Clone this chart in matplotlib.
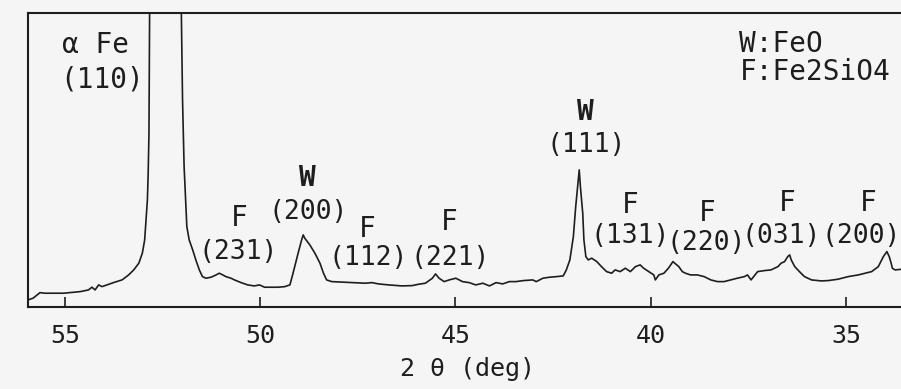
import matplotlib
matplotlib.use("Agg")
import matplotlib.pyplot as plt

# XRD pattern (2theta in deg, intensity in arbitrary units)
two_theta = [55.95, 55.82, 55.64, 55.52, 55.04, 54.61, 54.40, 54.31, 54.23, 54.14,
             54.05, 53.93, 53.76, 53.54, 53.37, 53.24, 53.11, 53.02, 52.96, 52.92,
             52.89, 52.87, 52.85, 52.83, 52.42, 52.03, 51.99, 51.95, 51.91, 51.88,
             51.82, 51.73, 51.65, 51.56, 51.48, 51.39, 51.26, 51.13, 51.05, 50.96,
             50.88, 50.75, 50.66, 50.49, 50.32, 50.15, 50.02, 49.89, 49.72, 49.54,
             49.37, 49.24, 49.16, 49.03, 48.94, 48.90, 48.86, 48.73, 48.60, 48.47,
             48.38, 48.30, 48.17, 47.65, 47.31, 47.14, 46.97, 46.71, 46.37, 46.11,
             45.94, 45.77, 45.59, 45.51, 45.42, 45.29, 45.16, 44.99, 44.82, 44.65,
             44.48, 44.30, 44.13, 43.96, 43.79, 43.62, 43.45, 43.27, 43.02, 42.93,
             42.76, 42.59, 42.41, 42.24, 42.16, 42.07, 41.98, 41.92, 41.87, 41.83,
             41.80, 41.74, 41.71, 41.66, 41.60, 41.51, 41.38, 41.26, 41.13, 41.00,
             40.91, 40.78, 40.65, 40.52, 40.39, 40.27, 40.18, 40.05, 39.92, 39.88,
             39.79, 39.66, 39.54, 39.43, 39.36, 39.28, 39.19, 39.11, 38.98, 38.81,
             38.63, 38.46, 38.29, 38.12, 37.95, 37.78, 37.60, 37.52, 37.43, 37.26,
             37.09, 36.92, 36.74, 36.66, 36.57, 36.49, 36.44, 36.40, 36.31, 36.19,
             36.06, 35.88, 35.63, 35.46, 35.20, 34.94, 34.68, 34.51, 34.34, 34.17,
             34.04, 33.95, 33.89, 33.84, 33.81, 33.74, 33.56, 33.45]
intensity = [7, 8.7, 14.3, 13.7, 13.7, 15.3, 17, 19.7, 17, 22,
             20.3, 22, 24.3, 27, 32, 37, 43.7, 53.7, 67, 90.3,
             107, 133.7, 173.7, 320, 1500, 320, 207, 140.3, 107, 80.3,
             67, 57, 47, 37, 30.3, 28.7, 29.7, 32, 33.7, 32,
             30.3, 28.7, 27, 24.3, 22, 21, 22, 19.7, 19.7, 19.7,
             20.3, 22, 33.7, 53.7, 67, 72, 68.7, 62, 53.7, 43.7,
             33.7, 27, 25.3, 24.3, 23.7, 24.3, 23, 22, 21, 21.3,
             22.7, 23.7, 28.7, 33, 28.7, 25.3, 27, 28.7, 25.3, 24.3,
             22, 23.7, 21, 24.3, 23, 25.3, 25.3, 26.3, 27, 25.3,
             28.7, 29.7, 30.3, 31, 37, 47, 70.3, 100.3, 120.3, 137,
             120.3, 93.7, 67, 50.3, 47, 48.7, 45.3, 40.3, 35.3, 33.7,
             37, 35.3, 38.7, 35.3, 40.3, 42, 38.7, 35.3, 32, 27,
             32, 33.7, 39, 45.3, 43, 40.3, 35.3, 33.7, 32, 32,
             30.3, 27, 25.3, 25.3, 27, 28.7, 30.3, 32, 27, 35.3,
             36.3, 37, 40.3, 43.7, 45.3, 50.3, 52, 47, 40.3, 35.3,
             30.3, 27, 26, 26.3, 27.7, 30.3, 32, 33.7, 35.3, 40.3,
             50.3, 55.3, 50.3, 43.7, 38.7, 37, 37.7, 37.7]

# peak labels: phase letter, Miller indices
phase = ["F", "W", "F", "F", "W", "F", "F", "F", "F"]
hkl = ["(231)", "(200)", "(112)", "(221)", "(111)", "(131)", "(220)", "(031)", "(200)"]
# label placement (2theta, intensity) for letter and for indices
letter_pos = [(50.55, 89), (48.79, 129), (47.27, 78), (45.15, 85), (41.68, 195),
              (40.52, 102), (38.56, 94), (36.50, 104), (34.44, 104)]
hkl_pos = [(50.57, 55), (48.76, 95), (47.24, 49), (45.13, 49), (41.65, 162),
           (40.52, 71), (38.58, 64), (36.65, 71), (34.62, 71)]

ink = "#1e1e1e"
font = "DejaVu Sans Mono"
lab_size = 19

fig = plt.figure(figsize=(9.01, 3.89), dpi=100, facecolor="#f5f5f5")
ax = fig.add_axes([0.031, 0.211, 0.975, 0.756])
ax.set_facecolor("#f5f5f5")

ax.plot(two_theta, intensity, color=ink, lw=1.2)
ax.set_xlim(55.95, 33.45)
ax.set_ylim(0, 294)

for s in ["left", "top", "bottom"]:
    ax.spines[s].set_linewidth(1.5)
    ax.spines[s].set_color(ink)
ax.spines["right"].set_visible(False)

ax.set_yticks([])
ax.set_xticks([55, 50, 45, 40, 35])
ax.tick_params(axis="x", direction="in", length=7, width=1.2, color=ink,
               pad=12, labelsize=18, labelcolor=ink)
for lab in ax.get_xticklabels():
    lab.set_family(font)
ax.set_xlabel("2 θ (deg)", fontsize=18, family=font, color=ink, labelpad=7)

ax.text(54.21, 262, "α Fe", fontsize=20, family=font, color=ink, ha="center", va="center")
ax.text(54.05, 227, "(110)", fontsize=20, family=font, color=ink, ha="center", va="center")

for p, h, lp, hp in zip(phase, hkl, letter_pos, hkl_pos):
    ax.text(lp[0], lp[1], p, fontsize=20, family=font, color=ink, ha="center",
            va="center", fontweight="bold" if p == "W" else "normal")
    ax.text(hp[0], hp[1], h, fontsize=lab_size, family=font, color=ink,
            ha="center", va="center")

ax.text(0.81, 0.895, "W:FeO", transform=ax.transAxes, fontsize=20, family=font,
        color=ink, ha="left", va="center")
ax.text(0.81, 0.80, "F:Fe2SiO4", transform=ax.transAxes, fontsize=20, family=font,
        color=ink, ha="left", va="center")

fig.savefig("out.png", dpi=100, facecolor=fig.get_facecolor())
